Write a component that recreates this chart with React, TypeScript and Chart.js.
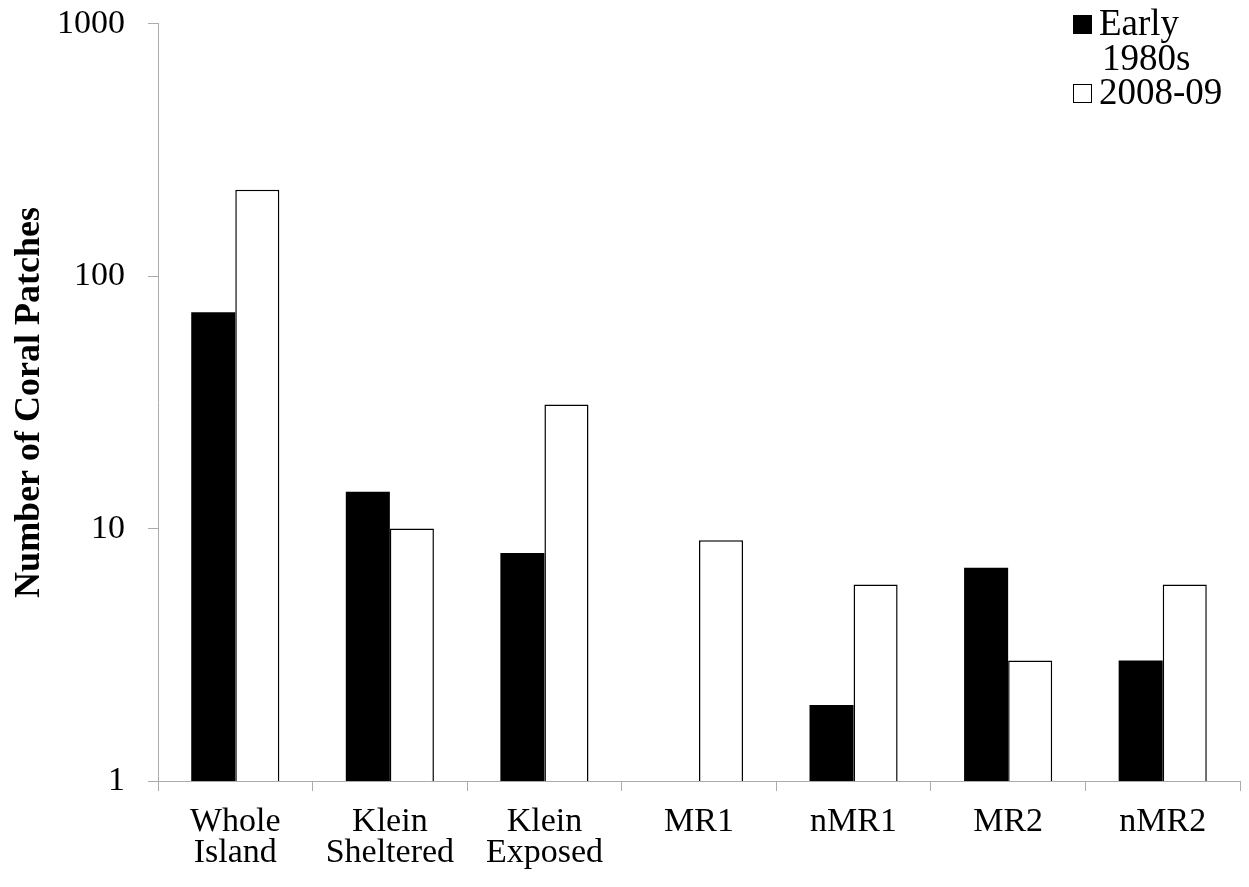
import React, { useEffect, useRef } from "react";
import { Chart, registerables } from "chart.js";

Chart.register(...registerables);

const categories: (string | string[])[] = [
  ["Whole", "Island"],
  ["Klein", "Sheltered"],
  ["Klein", "Exposed"],
  "MR1",
  "nMR1",
  "MR2",
  "nMR2",
];
const early1980s: (number | null)[] = [72, 14, 8, null, 2, 7, 3];
const recent200809: number[] = [220, 10, 31, 9, 6, 3, 6];
const yTickValues: number[] = [1, 10, 100, 1000];
const seriesNames: string[] = ["Early 1980s", "2008-09"];
const legendLines: string[][] = [["Early", "1980s"], ["2008-09"]];
const yTitle = "Number of Coral Patches";

const SERIF = '"Liberation Serif", "Times New Roman", serif';

const legendPlugin = {
  id: "customLegend",
  afterDraw(chart: any) {
    const ctx = chart.ctx as CanvasRenderingContext2D;
    ctx.save();
    ctx.font = `37px ${SERIF}`;
    ctx.textBaseline = "alphabetic";
    const boxX = 1073;
    const textX = 1099;
    const lineH = 34.5;
    const box = 19;
    let y = 35;
    chart.data.datasets.forEach((ds: any, i: number) => {
      const lines = legendLines[i];
      const top = y - box - 1;
      ctx.fillStyle = ds.backgroundColor;
      ctx.fillRect(boxX, top, box, box);
      ctx.strokeStyle = "#000";
      ctx.lineWidth = 1;
      ctx.strokeRect(boxX + 0.5, top + 0.5, box - 1, box - 1);
      ctx.fillStyle = "#000";
      lines.forEach((ln, j) => {
        ctx.fillText(ln, textX + (j > 0 ? 3 : 0), y);
        y += lineH;
      });
    });
    ctx.restore();
  },
};

export default function App() {
  const ref = useRef<HTMLCanvasElement | null>(null);

  useEffect(() => {
    if (!ref.current) return;
    const chart = new Chart(ref.current, {
      type: "bar",
      data: {
        labels: categories,
        datasets: [
          {
            label: seriesNames[0],
            data: early1980s,
            backgroundColor: "#000000",
            borderColor: "#000000",
            borderWidth: 0,
          },
          {
            label: seriesNames[1],
            data: recent200809,
            backgroundColor: "#ffffff",
            borderColor: "#000000",
            borderWidth: 1.5,
          },
        ],
      },
      options: {
        responsive: false,
        animation: false,
        datasets: {
          bar: { categoryPercentage: 0.57, barPercentage: 1.0 },
        },
        layout: { padding: { top: 0, right: 9, bottom: 0, left: 0 } },
        plugins: {
          legend: { display: false },
          tooltip: { enabled: false },
          title: { display: false },
        },
        scales: {
          x: {
            type: "category",
            grid: {
              display: true,
              drawOnChartArea: false,
              drawTicks: true,
              tickLength: 10,
              offset: true,
              color: "#ababab",
            },
            border: { display: true, color: "#ababab", width: 1, dash: [3, 2] },
            ticks: {
              color: "#000",
              font: { family: SERIF, size: 34, lineHeight: 0.9 },
              padding: 16,
              maxRotation: 0,
              autoSkip: false,
            },
            afterFit: (scale: any) => {
              scale.height = 106;
            },
          },
          y: {
            type: "logarithmic",
            min: 1,
            max: 1000,
            grid: {
              display: true,
              drawOnChartArea: false,
              drawTicks: true,
              tickLength: 10,
              color: "#ababab",
            },
            border: { display: true, color: "#ababab", width: 1, dash: [3, 2] },
            afterBuildTicks: (scale: any) => {
              scale.ticks = yTickValues.map((v) => ({ value: v }));
            },
            ticks: {
              color: "#000",
              font: { family: SERIF, size: 34, lineHeight: 0.05 },
              padding: 23,
              callback: (v: any) => String(v),
            },
            title: {
              display: true,
              text: yTitle,
              color: "#000",
              font: { family: SERIF, size: 36, weight: "bold", lineHeight: 1.2 },
              padding: { top: 8, bottom: 0 },
            },
            afterFit: (scale: any) => {
              scale.width = 158;
            },
          },
        },
      },
      plugins: [legendPlugin],
    });
    return () => chart.destroy();
  }, []);

  return (
    <div style={{ position: "absolute", left: 0, top: 0, width: 1249, height: 887, background: "#fff" }}>
      <canvas ref={ref} width={1249} height={887} style={{ width: 1249, height: 887, display: "block" }} />
    </div>
  );
}
